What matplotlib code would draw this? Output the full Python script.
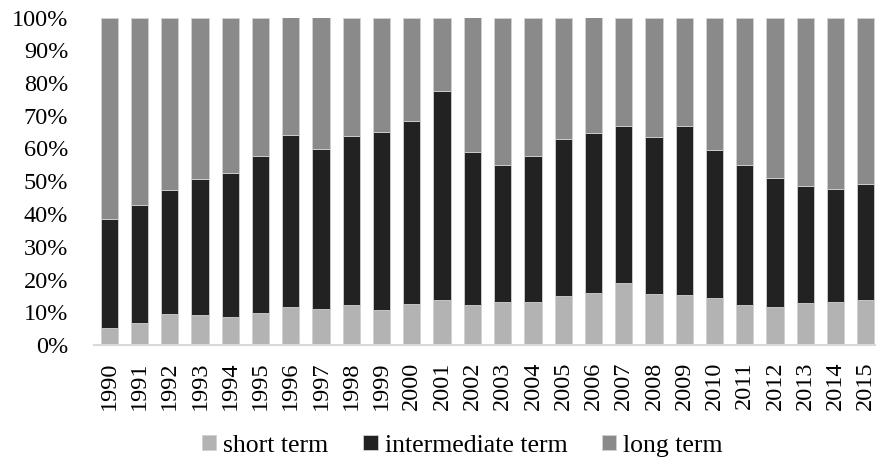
import matplotlib.pyplot as plt
import numpy as np
from matplotlib.ticker import PercentFormatter

years = [str(y) for y in range(1990, 2016)]
# cumulative tops (%)
short_term = [5.1, 6.8, 9.4, 9.2, 8.4, 9.7, 11.5, 11.0, 12.1, 10.8, 12.6, 13.6, 12.1,
              13.0, 13.0, 15.0, 15.8, 18.8, 15.7, 15.3, 14.5, 12.2, 11.7, 12.7, 13.2, 13.6]
short_plus_mid = [38.6, 42.8, 47.4, 50.7, 52.6, 57.7, 64.0, 59.9, 63.8, 65.0, 68.4, 77.7, 58.9,
                  55.0, 57.7, 63.0, 64.8, 67.0, 63.6, 66.9, 59.4, 55.0, 51.1, 48.6, 47.7, 49.1]

short = np.array(short_term)
intermediate = np.array(short_plus_mid) - short
long_ = 100 - short - intermediate

plt.rcParams['font.family'] = ['Liberation Serif', 'DejaVu Serif']

fig = plt.figure(figsize=(8.76, 4.58), dpi=100)
ax = fig.add_axes([94 / 876, 113 / 458, 787 / 876, 327.5 / 458])

x = np.arange(len(years))
w = 0.57
kw = dict(width=w, edgecolor='#d0d0d0', linewidth=0.6)
ax.bar(x, short, color='#b3b3b3', label='short term', **kw)
ax.bar(x, intermediate, bottom=short, color='#222222', label='intermediate term', **kw)
ax.bar(x, long_, bottom=short + intermediate, color='#8a8a8a', label='long term', **kw)

ax.set_xlim(-0.5, len(years) - 0.5)
ax.set_ylim(0, 100)
ax.set_yticks(np.arange(0, 101, 10))
ax.yaxis.set_major_formatter(PercentFormatter(decimals=0))
ax.set_xticks(x)
ax.set_xticklabels(years, rotation=90)
ax.tick_params(axis='y', length=0, pad=18.5, labelsize=17.5)
ax.tick_params(axis='x', length=0, pad=12, labelsize=17.5)

for s in ['top', 'right', 'left']:
    ax.spines[s].set_visible(False)
ax.spines['bottom'].set_color('#d9d9d9')
ax.spines['bottom'].set_linewidth(1.5)

fig.legend(loc='center', bbox_to_anchor=(0.528, 0.027), ncol=3, frameon=False,
           fontsize=18.5, handlelength=0.55, handleheight=0.55, handletextpad=0.27,
           columnspacing=1.36, borderpad=0, borderaxespad=0)

fig.savefig('out.png', dpi=100)
